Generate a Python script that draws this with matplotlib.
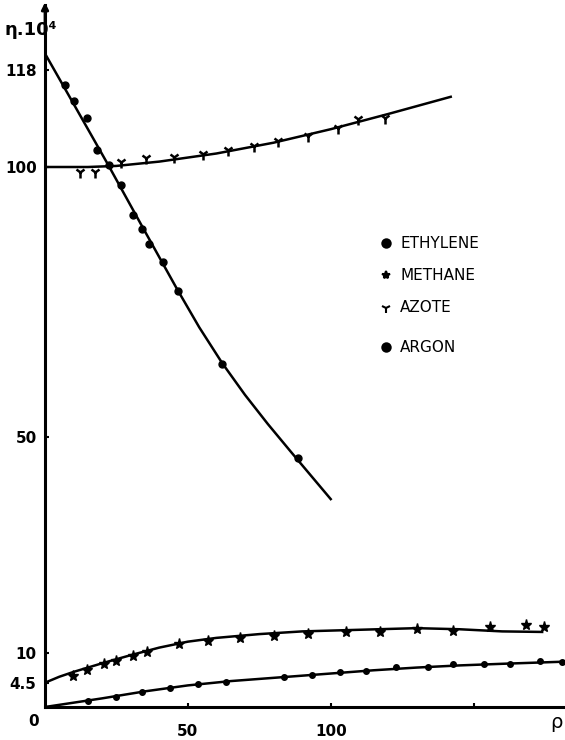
import numpy as np
import matplotlib.pyplot as plt

# Ethylène : points mesurés et courbe tracée à la main
eth_x = [7, 10.1, 14.7, 18.2, 22.4, 26.6, 30.8, 33.9, 36.4, 41.3, 46.5, 61.9, 88.5]
eth_y = [115.2, 112.2, 109, 103.1, 100.4, 96.7, 91.1, 88.5, 85.7, 82.4, 77, 63.5, 46.1]
eth_cx = [0, 10, 22, 34, 46, 54, 62, 70, 78, 86, 93, 100]
eth_cy = [121, 111.7, 100.5, 89.0, 77.6, 70.3, 63.7, 57.8, 52.4, 47.3, 42.9, 38.5]

# Azote
az_x = [12.2, 17.5, 26.6, 35.3, 45, 55.2, 64, 73, 81.5, 92, 102.4, 109.4, 118.9]
az_y = [99, 99, 100.9, 101.7, 101.9, 102.4, 103.1, 103.9, 104.8, 105.7, 107.2, 108.9, 109]
az_cx = [0, 15, 25, 40, 60, 80, 100, 120, 142]
az_cy = [100, 100, 100.2, 101, 102.5, 104.5, 107, 109.8, 113]

# Méthane
me_x = [9.9, 14.8, 20.7, 25, 30.9, 35.6, 46.9, 57.1, 68.2, 80.1, 92.1, 105.2, 117.1,
        130.1, 142.7, 155.6, 168.5, 174.5]
me_y = [5.7, 6.9, 8.0, 8.5, 9.4, 10.2, 11.6, 12.3, 12.7, 13.1, 13.6, 13.9, 13.9,
        14.4, 14.1, 14.8, 15.2, 14.8]
me_cx = [0, 5, 10, 20, 30, 40, 50, 60, 75, 90, 110, 130, 145, 160, 174]
me_cy = [4.5, 5.6, 6.5, 8.1, 9.6, 11.0, 12.1, 12.8, 13.5, 14.0, 14.3, 14.6, 14.4, 14.0, 13.9]

# Argon
ar_x = [15.1, 24.8, 33.9, 43.7, 53.5, 63.3, 83.6, 93.4, 103.1, 112.2, 122.7, 133.9,
        142.7, 153.5, 162.9, 173.1, 181]
ar_y = [1.1, 1.9, 2.8, 3.5, 4.3, 4.6, 5.5, 5.9, 6.5, 6.7, 7.4, 7.4, 7.9, 7.9, 7.9, 8.5, 8.3]
ar_cx = [0, 20, 35, 50, 65, 80, 100, 115, 130, 145, 160, 182]
ar_cy = [0, 1.6, 2.9, 4.0, 4.8, 5.4, 6.2, 6.8, 7.3, 7.7, 8.0, 8.4]

y_ticks = [0, 4.5, 10, 50, 100, 118]
y_labels = ['0', '4.5', '10', '50', '100', '118']
x_ticks = [50, 100, 150]
x_labels = ['50', '100', '']

fig = plt.figure(figsize=(5.65, 7.40), dpi=100)
ax = fig.add_axes([45 / 565, 33 / 740, 520 / 565, 702 / 740])
ax.set_xlim(0, 182)
ax.set_ylim(0, 130)

lw = 1.8
ax.plot(eth_cx, eth_cy, color='black', lw=lw)
ax.plot(az_cx, az_cy, color='black', lw=lw)
ax.plot(me_cx, me_cy, color='black', lw=lw)
ax.plot(ar_cx, ar_cy, color='black', lw=lw)

ax.plot(eth_x, eth_y, 'o', color='black', ms=5)
ax.plot(az_x, az_y, '1', color='black', ms=8, mew=1.8)
ax.plot(me_x, me_y, '*', color='black', ms=8)
ax.plot(ar_x, ar_y, 'o', color='black', ms=4)

for s in ['top', 'right']:
    ax.spines[s].set_visible(False)
for s in ['left', 'bottom']:
    ax.spines[s].set_linewidth(2.2)

ax.set_yticks(y_ticks)
ax.set_yticklabels(y_labels)
ax.set_xticks(x_ticks)
ax.set_xticklabels(x_labels)
ax.tick_params(axis='y', direction='in', length=3, width=1.5, labelsize=11, pad=6)
ax.tick_params(axis='x', direction='in', length=3, width=1.5, labelsize=11, pad=12)
for lab in ax.get_yticklabels() + ax.get_xticklabels():
    lab.set_fontweight('bold')
ax.get_yticklabels()[0].set_visible(False)

# flèche en haut de l'axe
ax.annotate('', xy=(0, 131), xytext=(0, 124), xycoords='data',
            arrowprops=dict(arrowstyle='-|>', color='black', lw=2), annotation_clip=False)

fig.text(5 / 565, 1 - 30 / 740, 'η.10⁴', fontsize=13, fontweight='bold', va='center')
fig.text(28 / 565, 1 - 722 / 740, '0', fontsize=11, fontweight='bold', va='center')
fig.text(550 / 565, 1 - 722 / 740, 'ρ', fontsize=14, va='center')

# légende écrite à la main
leg_y = [243, 275, 308, 347]
leg_txt = ['ETHYLENE', 'METHANE', 'AZOTE', 'ARGON']
leg_mk = ['o', '*', '1', 'o']
for yy, tt, mk in zip(leg_y, leg_txt, leg_mk):
    fx, fy = 386 / 565, 1 - yy / 740
    fig.lines.append(plt.Line2D([fx], [fy], marker=mk, color='black', ms=6 if mk != '1' else 7,
                                mew=1.5, transform=fig.transFigure))
    fig.text(fx + 14 / 565, fy, tt, fontsize=11, va='center')

fig.savefig('out.png', dpi=100)
